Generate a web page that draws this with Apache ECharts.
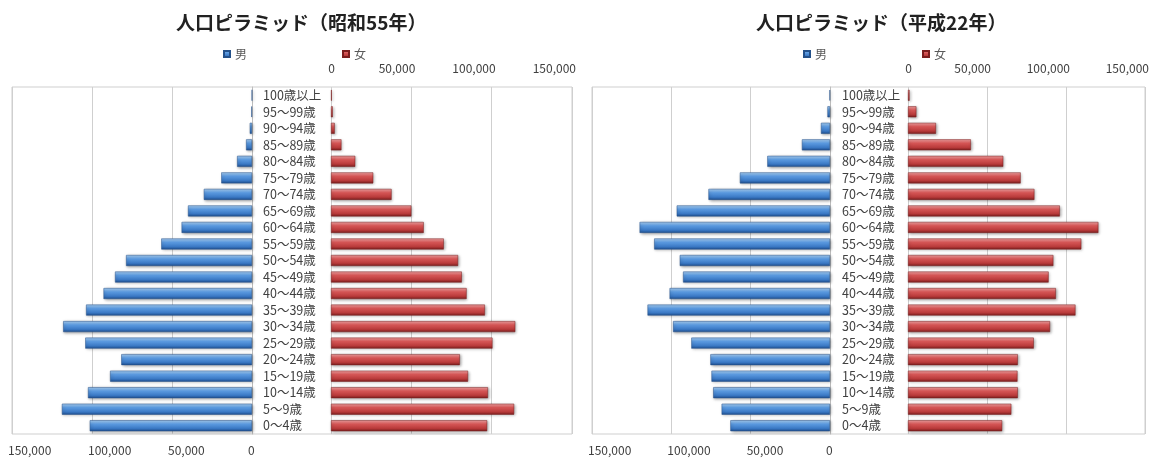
<!DOCTYPE html>
<html>
<head>
<meta charset="utf-8">
<script src="https://cdn.jsdelivr.net/npm/echarts@6/dist/echarts.min.js"></script>
<style>
html,body{margin:0;padding:0;background:#fff;}
#c{width:1156px;height:459px;}
</style>
</head>
<body>
<div id="c"></div>
<script>
// Data (bottom to top)
var categories = ['0～4歳','5～9歳','10～14歳','15～19歳','20～24歳','25～29歳','30～34歳','35～39歳','40～44歳','45～49歳','50～54歳','55～59歳','60～64歳','65～69歳','70～74歳','75～79歳','80～84歳','85～89歳','90～94歳','95～99歳','100歳以上'];
var titles = ['人口ピラミッド（昭和55年）', '人口ピラミッド（平成22年）'];
var seriesNames = ['男', '女'];
var s55Male   = [101400,118800,102500,88700,81700,104200,118000,103700,92800,85600,78700,56700,44000,40000,30100,19200,9300,3700,1400,400,50];
var s55Female = [97200,114000,97700,85300,80200,100500,114700,95800,84400,81400,79100,70200,57700,50000,37700,26300,15100,6500,2300,1100,500];
var h22Male   = [62800,68300,73600,74700,75400,87400,98900,115000,101100,92600,94700,110800,120000,96600,76600,56800,39500,17700,5700,1600,300];
var h22Female = [59600,65400,69500,69300,69500,79600,89900,106000,93600,89000,92000,109700,120500,96100,80000,71300,60300,39800,17700,5300,1000];

var FONT = '"Noto Sans CJK JP","Noto Sans",sans-serif';
var blue = new echarts.graphic.LinearGradient(0,0,0,1,[
  {offset:0,color:'#a9d0f5'},{offset:0.35,color:'#5b9ae0'},{offset:0.75,color:'#3a78c4'},{offset:1,color:'#1f4f8f'}]);
var red = new echarts.graphic.LinearGradient(0,0,0,1,[
  {offset:0,color:'#f3a3a3'},{offset:0.35,color:'#d65656'},{offset:0.75,color:'#b83a3a'},{offset:1,color:'#7a1e1e'}]);

function fmt(v){ return v.toString().replace(/\B(?=(\d{3})+(?!\d))/g, ','); }

var charts = [
  {off:0,   mL:12,  mW:240, fL:331, fW:241, lblMargin:68, male:s55Male, female:s55Female},
  {off:580, mL:592, mW:238, fL:908, fW:237, lblMargin:66, male:h22Male, female:h22Female}
];
var TOP = 87, H = 347;

var option = {
  animation:false,
  textStyle:{fontFamily:FONT},
  title:[], legend:[], grid:[], xAxis:[], yAxis:[], series:[], graphic:[]
};

charts.forEach(function(c, i){
  option.title.push({
    text:titles[i], left:c.off+171, top:8,
    textStyle:{fontFamily:FONT, fontSize:19, fontWeight:'bold', color:'#222'}
  });
  option.legend.push({
    data:seriesNames, left:c.off+218, top:43, itemWidth:6, itemHeight:6, itemGap:95,
    icon:'rect', textStyle:{fontFamily:FONT, fontSize:12, color:'#595959'}
  });
  option.graphic.push({
    type:'rect', shape:{x:c.mL, y:TOP, width:c.fL+c.fW-c.mL, height:H},
    style:{fill:'none', stroke:'#cfcfcf', lineWidth:1}, z:-1
  });
  option.grid.push({left:c.mL, top:TOP, width:c.mW, height:H, containLabel:false});
  option.grid.push({left:c.fL, top:TOP, width:c.fW, height:H, containLabel:false});
  var gm = i*2, gf = i*2+1;
  option.xAxis.push({
    type:'value', gridIndex:gm, min:0, max:150000, interval:50000, inverse:true, position:'bottom',
    axisLine:{show:false}, axisTick:{show:false},
    splitLine:{show:true, lineStyle:{color:'#cfcfcf', width:1}},
    axisLabel:{fontFamily:FONT, fontSize:12, color:'#404040', margin:10, align:'left', padding:[0,0,0,-4],
      formatter:function(v){return fmt(v);}}
  });
  option.xAxis.push({
    type:'value', gridIndex:gf, min:0, max:150000, interval:50000, position:'top',
    axisLine:{show:false}, axisTick:{show:false},
    splitLine:{show:true, lineStyle:{color:'#cfcfcf', width:1}},
    axisLabel:{fontFamily:FONT, fontSize:12, color:'#404040', margin:13, align:'right', padding:[0,-4,0,0],
      formatter:function(v){return fmt(v);}}
  });
  option.yAxis.push({
    type:'category', gridIndex:gm, data:categories, position:'right',
    axisLine:{show:true, lineStyle:{color:'#bdbdbd'}}, axisTick:{show:false}, axisLabel:{show:false}
  });
  option.yAxis.push({
    type:'category', gridIndex:gf, data:categories, position:'left',
    axisLine:{show:false}, axisTick:{show:false},
    axisLabel:{fontFamily:FONT, fontSize:12.5, color:'#404040', align:'left', margin:c.lblMargin,
      interval:0, hideOverlap:false}
  });
  var shadow = {shadowColor:'rgba(0,0,0,0.35)', shadowBlur:3, shadowOffsetX:1, shadowOffsetY:1};
  option.series.push({
    name:'男', type:'bar', xAxisIndex:gm, yAxisIndex:gm, data:c.male, barWidth:11,
    itemStyle:Object.assign({color:blue, borderColor:'#24518a', borderWidth:0.5}, shadow)
  });
  option.series.push({
    name:'女', type:'bar', xAxisIndex:gf, yAxisIndex:gf, data:c.female, barWidth:11,
    itemStyle:Object.assign({color:red, borderColor:'#7a1e1e', borderWidth:0.5}, shadow)
  });
});

var chart = echarts.init(document.getElementById('c'), null, {renderer:'canvas'});
chart.setOption(option);
</script>
</body>
</html>
